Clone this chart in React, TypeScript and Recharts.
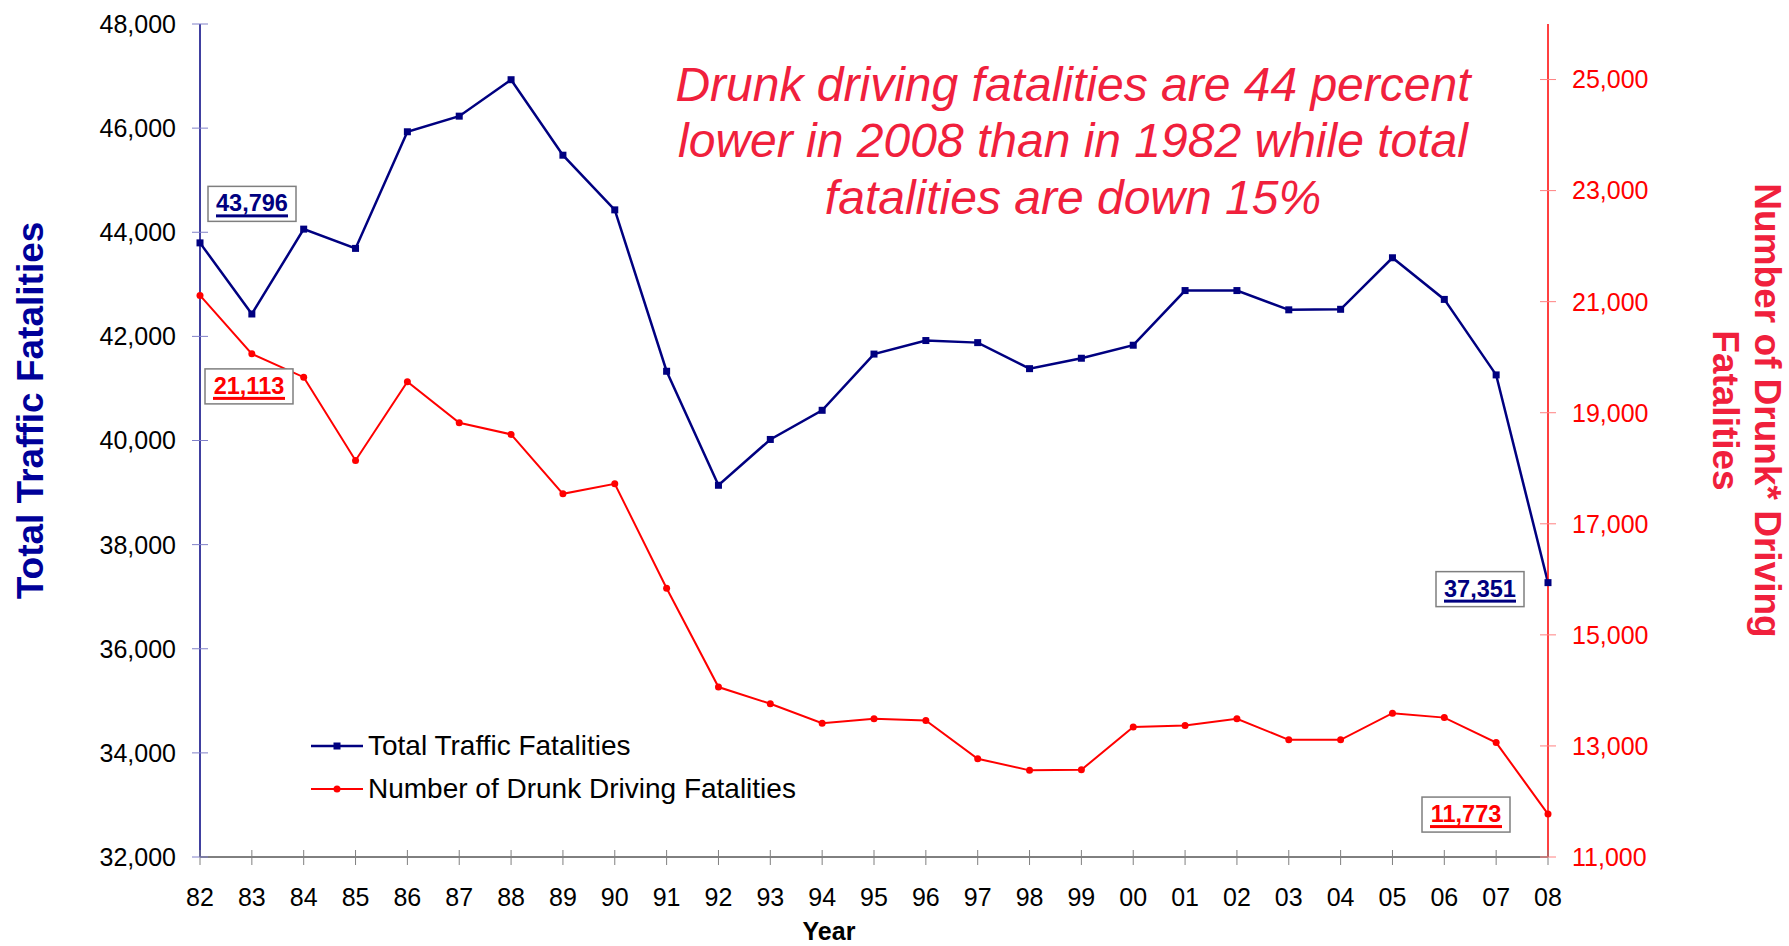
import React from 'react';
import { LineChart, Line, XAxis, YAxis, Legend, LabelList } from 'recharts';

const YEARS = ['82', '83', '84', '85', '86', '87', '88', '89', '90', '91', '92', '93', '94', '95', '96', '97', '98', '99', '00', '01', '02', '03', '04', '05', '06', '07', '08'];
const TOTAL_FATALITIES = [43796, 42430, 44060, 43690, 45930, 46230, 46930, 45480, 44430, 41330, 39140, 40020, 40580, 41660, 41920, 41880, 41380, 41580, 41830, 42880, 42880, 42510, 42520, 43510, 42710, 41260, 37270];
const DRUNK_FATALITIES = [21113, 20060, 19640, 18140, 19560, 18820, 18610, 17540, 17720, 15840, 14060, 13760, 13410, 13490, 13460, 12770, 12560, 12570, 13340, 13370, 13490, 13110, 13110, 13590, 13510, 13060, 11773];
const LEFT_TICKS = [32000, 34000, 36000, 38000, 40000, 42000, 44000, 46000, 48000];
const RIGHT_TICKS = [11000, 13000, 15000, 17000, 19000, 21000, 23000, 25000];
const TOTAL_CALLOUTS = ['43,796', '37,351'];
const DRUNK_CALLOUTS = ['21,113', '11,773'];
const NOTE_LINES = [
  'Drunk driving fatalities are 44 percent',
  'lower in 2008 than in 1982 while total',
  'fatalities are down 15%',
];
const LEGEND_ITEMS = [
  { name: 'Total Traffic Fatalities', key: 'total' },
  { name: 'Number of Drunk Driving Fatalities', key: 'drunk' },
];

const data = YEARS.map((year, i) => ({
  year,
  total: TOTAL_FATALITIES[i],
  drunk: DRUNK_FATALITIES[i],
}));

const NAVY = '#000080';
const RED = '#FF0000';
const NOTE_RED = '#F0203C';
const FONT = '"Liberation Sans", Arial, sans-serif';
const TICK_SIZE = 8;
const TICK_MARGIN = 16;
const LAST = YEARS.length - 1;

const fmt = (v: number) => v.toLocaleString('en-US');

const LeftTick = (props: any) => {
  const { x, y, payload } = props;
  const axisX = x + TICK_SIZE + TICK_MARGIN;
  return (
    <g>
      <line x1={axisX} x2={axisX + TICK_SIZE} y1={y} y2={y} stroke="#8080C8" />
      <text x={x} y={y} dy="0.355em" textAnchor="end" fill="#000" fontSize={25}>
        {fmt(payload.value)}
      </text>
    </g>
  );
};

const RightTick = (props: any) => {
  const { x, y, payload } = props;
  const axisX = x - TICK_SIZE - TICK_MARGIN;
  return (
    <g>
      <line x1={axisX} x2={axisX - TICK_SIZE} y1={y} y2={y} stroke="#FF8080" />
      <text x={x} y={y} dy="0.355em" textAnchor="start" fill={RED} fontSize={25}>
        {fmt(payload.value)}
      </text>
    </g>
  );
};

const XTick = (props: any) => {
  const { x, y, payload } = props;
  const axisY = y - TICK_SIZE - 23;
  return (
    <g>
      <line x1={x} x2={x} y1={axisY} y2={axisY - 7} stroke="#808080" />
      <text x={x} y={y} dy="0.71em" textAnchor="middle" fill="#000" fontSize={25}>
        {payload.value}
      </text>
    </g>
  );
};

// boxed, underlined value labels on the first and last points
const Callout = ({ x, y, dx, dy, text, color }: any) => {
  const w = 88;
  const h = 35;
  const left = x + dx;
  const top = y + dy;
  const cx = left + w / 2;
  return (
    <g>
      <rect x={left} y={top} width={w} height={h} fill="#fff" stroke="#7f7f7f" strokeWidth={1.5} />
      <text x={cx} y={top + 25} textAnchor="middle" fontSize={23.5} fontWeight="bold" fill={color}>
        {text}
      </text>
      <rect x={cx - 36} y={top + 28} width={72} height={3} fill={color} />
    </g>
  );
};

const totalCallout = (p: any) => {
  if (p.index === 0) return <Callout x={p.x} y={p.y} dx={8} dy={-56.5} text={TOTAL_CALLOUTS[0]} color={NAVY} />;
  if (p.index === LAST) return <Callout x={p.x} y={p.y} dx={-112} dy={-11} text={TOTAL_CALLOUTS[1]} color={NAVY} />;
  return null;
};

const drunkCallout = (p: any) => {
  if (p.index === 0) return <Callout x={p.x} y={p.y} dx={5} dy={73.5} text={DRUNK_CALLOUTS[0]} color={RED} />;
  if (p.index === LAST) return <Callout x={p.x} y={p.y} dx={-126} dy={-17} text={DRUNK_CALLOUTS[1]} color={RED} />;
  return null;
};

const SquareDot = (p: any) => (
  <rect key={`sq-${p.index}`} x={p.cx - 3.5} y={p.cy - 3.5} width={7} height={7} fill={NAVY} />
);

const LeftTitle = (props: any) => {
  const vb = props.viewBox || props;
  const x = vb.x + 43;
  const y = vb.y + vb.height / 2 - 30;
  return (
    <text x={x} y={y} transform={`rotate(-90, ${x}, ${y})`} textAnchor="middle" fontSize={37} fontWeight="bold" fill="#000099">
      Total Traffic Fatalities
    </text>
  );
};

const RightTitle = (props: any) => {
  const vb = props.viewBox || props;
  const y = vb.y + vb.height / 2 - 30;
  const x1 = vb.x + 207;
  const x2 = vb.x + 165;
  return (
    <g>
      <text x={x1} y={y} transform={`rotate(90, ${x1}, ${y})`} textAnchor="middle" fontSize={37} fontWeight="bold" fill={NOTE_RED}>
        Number of Drunk* Driving
      </text>
      <text x={x2} y={y} transform={`rotate(90, ${x2}, ${y})`} textAnchor="middle" fontSize={37} fontWeight="bold" fill={NOTE_RED}>
        Fatalities
      </text>
    </g>
  );
};

const LegendContent = () => (
  <div style={{ fontFamily: FONT, fontSize: 28, color: '#000' }}>
    {LEGEND_ITEMS.map((item) => {
      const color = item.key === 'total' ? NAVY : RED;
      return (
        <div key={item.key} style={{ display: 'flex', alignItems: 'center', height: 42.5, whiteSpace: 'nowrap' }}>
          <svg width={52} height={12} style={{ display: 'block' }}>
            <line x1={0} x2={52} y1={6} y2={6} stroke={color} strokeWidth={item.key === 'total' ? 2.5 : 2} />
            {item.key === 'total' ? (
              <rect x={22.5} y={2.5} width={7} height={7} fill={NAVY} />
            ) : (
              <circle cx={26} cy={6} r={3.5} fill={RED} />
            )}
          </svg>
          <span style={{ marginLeft: 5 }}>{item.name}</span>
        </div>
      );
    })}
  </div>
);

export default function App() {
  return (
    <div style={{ position: 'absolute', left: 0, top: 0, width: 1789, height: 946, background: '#fff', fontFamily: FONT }}>
      <LineChart width={1789} height={946} data={data} margin={{ top: 24, right: 0, bottom: 0, left: 0 }}>
        <XAxis
          dataKey="year"
          height={89}
          interval={0}
          tickSize={TICK_SIZE}
          tickMargin={23}
          axisLine={{ stroke: '#000', strokeWidth: 1 }}
          tickLine={{ stroke: '#808080' }}
          tick={<XTick />}
          label={{ value: 'Year', position: 'insideBottom', offset: 6, dx: -45, fontSize: 25, fontWeight: 'bold', fill: '#000' }}
        />
        <YAxis
          yAxisId="left"
          width={200}
          domain={[32000, 48000]}
          ticks={LEFT_TICKS}
          tickSize={TICK_SIZE}
          tickMargin={TICK_MARGIN}
          axisLine={{ stroke: NAVY, strokeWidth: 1.5 }}
          tickLine={{ stroke: '#8080C8' }}
          tick={<LeftTick />}
          label={LeftTitle}
        />
        <YAxis
          yAxisId="right"
          orientation="right"
          width={241}
          domain={[11000, 26000]}
          ticks={RIGHT_TICKS}
          tickSize={TICK_SIZE}
          tickMargin={TICK_MARGIN}
          axisLine={{ stroke: RED, strokeWidth: 1.5 }}
          tickLine={{ stroke: '#FF8080' }}
          tick={<RightTick />}
          label={RightTitle}
        />
        <Legend
          layout="vertical"
          align="center"
          verticalAlign="middle"
          content={LegendContent}
          wrapperStyle={{ left: 311, top: 725, width: 'auto' }}
        />
        <Line
          yAxisId="left"
          type="linear"
          dataKey="total"
          name="Total Traffic Fatalities"
          stroke={NAVY}
          strokeWidth={2.5}
          dot={SquareDot}
          activeDot={false}
          isAnimationActive={false}
        >
          <LabelList dataKey="total" content={totalCallout} />
        </Line>
        <Line
          yAxisId="right"
          type="linear"
          dataKey="drunk"
          name="Number of Drunk Driving Fatalities"
          stroke={RED}
          strokeWidth={2}
          dot={{ r: 3.5, fill: RED, stroke: RED, strokeWidth: 0 }}
          activeDot={false}
          isAnimationActive={false}
        >
          <LabelList dataKey="drunk" content={drunkCallout} />
        </Line>
      </LineChart>
      <div
        style={{
          position: 'absolute',
          left: 573,
          top: 56.7,
          width: 1000,
          textAlign: 'center',
          fontStyle: 'italic',
          fontSize: 48,
          lineHeight: '56.7px',
          color: NOTE_RED,
          whiteSpace: 'nowrap',
        }}
      >
        {NOTE_LINES.map((line) => (
          <div key={line}>{line}</div>
        ))}
      </div>
    </div>
  );
}
